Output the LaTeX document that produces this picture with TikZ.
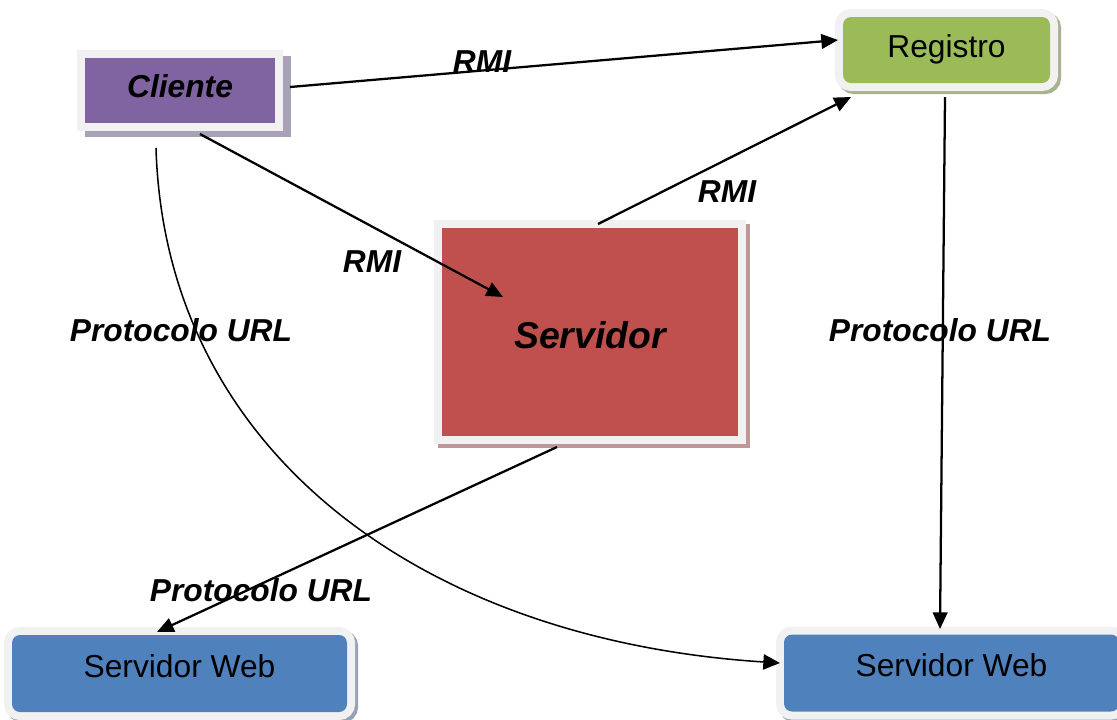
\documentclass[tikz,border=0pt]{standalone}
\usepackage{fontspec}
\setmainfont{Liberation Sans}
\usetikzlibrary{arrows.meta}

\definecolor{frameg}{HTML}{F1F1F1}
\definecolor{cliP}{HTML}{8064A2}
\definecolor{cliS}{HTML}{A9A2B6}
\definecolor{regG}{HTML}{9BBB59}
\definecolor{regS}{HTML}{A7B28F}
\definecolor{srvR}{HTML}{C0504D}
\definecolor{srvS}{HTML}{BE9898}
\definecolor{webB}{HTML}{4F81BD}
\definecolor{webS}{HTML}{97A3B5}

\begin{document}
\begin{tikzpicture}[x=0.75pt,y=-0.75pt,
  % coloured tile with a light frame and an offset shadow
  tile/.style n args={3}{fill=#1, draw=none, inner sep=0pt, outer sep=0pt,
    preaction={draw=#2, line width=12pt, transform canvas={shift={(#3)}}},
    preaction={draw=frameg, line width=12pt}},
  plain/.style={font=\fontsize{23.8pt}{28pt}\selectfont},
  bolditalic/.style={font=\fontsize{23.8pt}{28pt}\selectfont\bfseries\itshape},
  lbl/.style={bolditalic, inner sep=0pt},
  link/.style={line width=1.7pt, -{Triangle[length=12.5pt, width=11pt]}},
  curvelink/.style={line width=1.15pt, -{Triangle[length=12.5pt, width=11.5pt]}}
]
\useasboundingbox (0,0) rectangle (1117,719);

% boxes
\node[tile={cliP}{cliS}{8,6}, minimum width=142.5pt, minimum height=48.75pt,
      bolditalic, text height=17.85pt, text depth=7.6pt] (cli) at (180,90.5) {Cliente};
\node[tile={regG}{regS}{3,3}, rounded corners=6pt, minimum width=155.25pt,
      minimum height=49.5pt, plain, text height=17.85pt, text depth=6.8pt]
      (reg) at (946.5,50) {Registro};
\node[tile={srvR}{srvS}{4,4}, minimum width=222pt, minimum height=156pt,
      font=\fontsize{28pt}{32pt}\selectfont\bfseries\itshape,
      text height=24.5pt, text depth=0pt] (srv) at (590,332) {Servidor};
\node[tile={webB}{webS}{3,3}, rounded corners=6pt, minimum width=251.25pt,
      minimum height=57.75pt, plain, text height=17.85pt, text depth=12.4pt]
      (web1) at (179.5,673.5) {Servidor Web};
\node[tile={webB}{webS}{3,3}, rounded corners=6pt, minimum width=251.25pt,
      minimum height=57.75pt, plain, text height=17.85pt, text depth=12.4pt]
      (web2) at (951.5,673) {Servidor Web};

% connector end points
\coordinate (cli-e) at (290,87);
\coordinate (cli-b) at (200,134);
\coordinate (cli-c) at (156,148);
\coordinate (reg-w) at (838,40);
\coordinate (reg-sw) at (851,97);
\coordinate (reg-s) at (945,97);
\coordinate (srv-t) at (598,224);
\coordinate (srv-in) at (503,297);
\coordinate (srv-b) at (557,447);
\coordinate (web1-t) at (157,632);
\coordinate (web2-t) at (940,629);
\coordinate (web2-w) at (780,663);

% connectors
\draw[link] (cli-e) -- (reg-w);
\draw[link] (cli-b) -- (srv-in);
\draw[link] (srv-t) -- (reg-sw);
\draw[link] (reg-s) -- (web2-t);
\draw[link] (srv-b) -- (web1-t);
\draw[curvelink] (cli-c) .. controls +(9,302) and +(-360,-23) .. (web2-w);

% connector labels
\node[lbl] (rmi1) at (482,62) {RMI};
\node[lbl] (rmi2) at (727,192) {RMI};
\node[lbl] (rmi3) at (372,262) {RMI};
\node[lbl] (url1) at (181,330) {Protocolo URL};
\node[lbl] (url2) at (940,330) {Protocolo URL};
\node[lbl] (url3) at (261,590) {Protocolo URL};
\end{tikzpicture}
\end{document}
